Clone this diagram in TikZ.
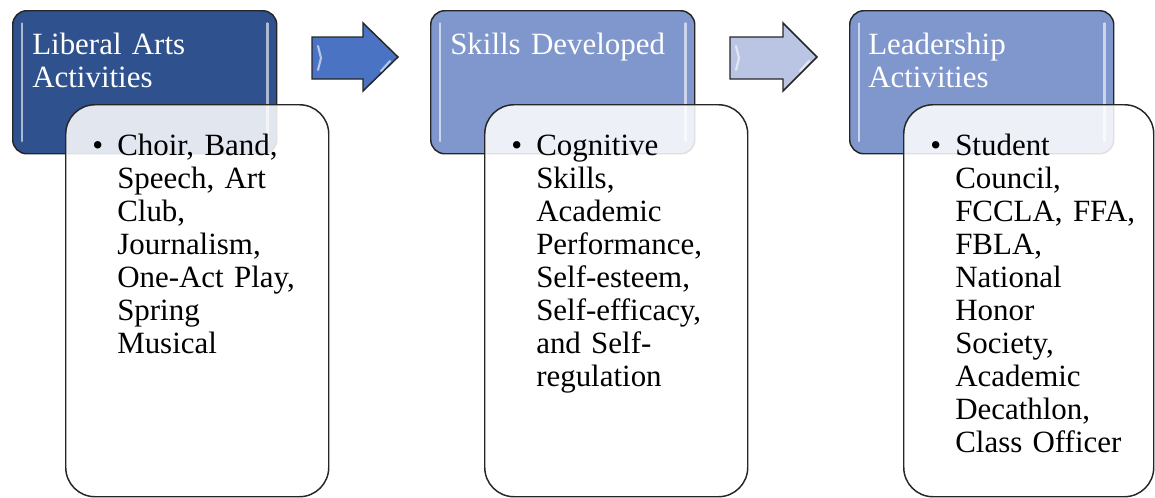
\documentclass[tikz,border=0pt]{standalone}
\usepackage{fontspec}
\setmainfont{Liberation Serif}
\definecolor{darkhead}{RGB}{47,82,143}
\definecolor{lighthead}{RGB}{128,151,205}
\definecolor{darkarrow}{RGB}{74,115,196}
\definecolor{lightarrow}{RGB}{186,197,228}
\begin{document}
\begin{tikzpicture}[x=0.75pt,y=-0.75pt,
  headbox/.style={draw=black!85, line width=1.1pt, rounded corners=10.5pt, anchor=north west,
    minimum width=198pt, minimum height=107.25pt, inner sep=0pt},
  itembox/.style={draw=black!85, line width=1.1pt, rounded corners=22pt, fill=white, fill opacity=0.86,
    anchor=north west, minimum height=294pt, inner sep=0pt},
  headtext/.style={anchor=base west, inner sep=0pt, text=white, text width=190pt, align=left,
    font=\fontsize{23.2}{24.75}\selectfont},
  itemtext/.style={anchor=base west, inner sep=0pt, text width=170pt, align=left,
    font=\fontsize{23.2}{24.75}\selectfont},
  dot/.style={anchor=base west, inner sep=0pt, font=\fontsize{23.2}{24.75}\selectfont},
  blockarrow/.style={draw=black!85, line width=1.1pt, line join=miter},
  shine/.style={white, opacity=0.6, line width=1.6pt, line cap=round}
]
\useasboundingbox (0,0) rectangle (1155,497);

% Define coordinates
\coordinate (HA) at (12,10);    % heading box A
\coordinate (HB) at (430,10);   % heading box B
\coordinate (HC) at (849,10);   % heading box C
\coordinate (LA) at (65,104);   % list box A
\coordinate (LB) at (484,104);  % list box B
\coordinate (LC) at (903,104);  % list box C

% Draw the heading boxes
\node[headbox, fill=darkhead] (headA) at (HA) {};
\node[headbox, fill=lighthead] (headB) at (HB) {};
\node[headbox, fill=lighthead] (headC) at (HC) {};
\draw[shine] ([xshift=7.5pt,yshift=-10pt]headA.north west) -- ([xshift=7.5pt,yshift=10pt]headA.south west);
\draw[shine] ([xshift=-7.5pt,yshift=-10pt]headA.north east) -- ([xshift=-7.5pt,yshift=10pt]headA.south east);
\draw[shine] ([xshift=7.5pt,yshift=-10pt]headB.north west) -- ([xshift=7.5pt,yshift=10pt]headB.south west);
\draw[shine] ([xshift=-7.5pt,yshift=-10pt]headB.north east) -- ([xshift=-7.5pt,yshift=10pt]headB.south east);
\draw[shine] ([xshift=7.5pt,yshift=-10pt]headC.north west) -- ([xshift=7.5pt,yshift=10pt]headC.south west);
\draw[shine] ([xshift=-7.5pt,yshift=-10pt]headC.north east) -- ([xshift=-7.5pt,yshift=10pt]headC.south east);

% Draw the block arrows
\filldraw[blockarrow, fill=darkarrow] (312,37) -- (363,37) -- (363,23) -- (398,57) -- (363,91) -- (363,79) -- (312,79) -- cycle;
\filldraw[blockarrow, fill=lightarrow] (730,37) -- (783,37) -- (783,23) -- (817,57) -- (783,91) -- (783,79) -- (730,79) -- cycle;
% bevel highlights on the arrows
\draw[shine] (318,46) -- (321,58) -- (318,70);
\draw[shine] (390,61) -- (381,71);
\draw[shine] (736,46) -- (739,58) -- (736,70);
\draw[shine] (809,61) -- (800,71);

% Draw the list boxes (over the headings)
\node[itembox, minimum width=197.25pt] (itemA) at (LA) {};
\node[itembox, minimum width=197.25pt] (itemB) at (LB) {};
\node[itembox, minimum width=187.5pt] (itemC) at (LC) {};

% Headings
\node[headtext] (titleA) at (32,54) {Liberal Arts\\Activities};
\node[headtext] (titleB) at (450,54) {Skills Developed};
\node[headtext] (titleC) at (868,54) {Leadership\\Activities};

% Bullets and lists
\node[dot] (dotA) at (92,155) {\textbullet};
\node[dot] (dotB) at (511,155) {\textbullet};
\node[dot] (dotC) at (930,155) {\textbullet};
\node[itemtext] (listA) at (117,155) {Choir, Band,\\Speech, Art\\Club,\\Journalism,\\One-Act Play,\\Spring\\Musical};
\node[itemtext] (listB) at (536,155) {Cognitive\\Skills,\\Academic\\Performance,\\Self-esteem,\\Self-efficacy,\\and Self-\\regulation};
\node[itemtext] (listC) at (955,155) {Student\\Council,\\FCCLA, FFA,\\FBLA,\\National\\Honor\\Society,\\Academic\\Decathlon,\\Class Officer};

\end{tikzpicture}
\end{document}
